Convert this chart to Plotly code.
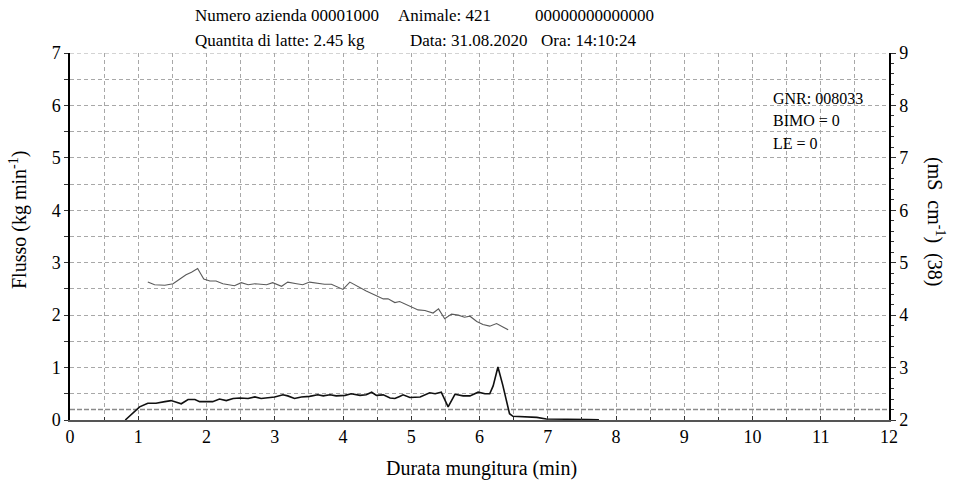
import plotly.graph_objects as go

# Flow curve (kg/min) vs time (min)
flow_t = [0.81, 0.92, 1.02, 1.14, 1.26, 1.39, 1.48, 1.56, 1.63, 1.73, 1.83, 1.90, 2.00, 2.09,
          2.19, 2.29, 2.39, 2.49, 2.61, 2.71, 2.80, 2.90, 3.00, 3.12, 3.19, 3.29, 3.39, 3.51,
          3.63, 3.71, 3.81, 3.90, 4.03, 4.12, 4.25, 4.34, 4.42, 4.49, 4.59, 4.69, 4.76, 4.83,
          4.88, 4.98, 5.13, 5.27, 5.35, 5.44, 5.54, 5.64, 5.76, 5.86, 5.98, 6.08, 6.15, 6.20,
          6.27, 6.34, 6.40, 6.44, 6.49, 6.64, 6.84, 6.98, 7.18, 7.37, 7.59, 7.75]
flow_v = [0.00, 0.13, 0.25, 0.32, 0.32, 0.35, 0.37, 0.34, 0.31, 0.39, 0.39, 0.35, 0.35, 0.35,
          0.40, 0.37, 0.41, 0.42, 0.41, 0.44, 0.41, 0.42, 0.44, 0.48, 0.46, 0.41, 0.44, 0.45,
          0.48, 0.46, 0.48, 0.46, 0.47, 0.50, 0.47, 0.48, 0.53, 0.47, 0.48, 0.42, 0.41, 0.45,
          0.48, 0.43, 0.44, 0.52, 0.50, 0.53, 0.25, 0.49, 0.46, 0.46, 0.53, 0.50, 0.50, 0.65,
          1.01, 0.67, 0.32, 0.12, 0.07, 0.06, 0.05, 0.02, 0.02, 0.02, 0.01, 0.005]

# Conductivity curve (mS/cm) vs time (min)
cond_t = [1.14, 1.24, 1.39, 1.51, 1.61, 1.70, 1.78, 1.87, 1.96, 2.05, 2.14, 2.24, 2.41, 2.51,
          2.61, 2.71, 2.88, 2.97, 3.10, 3.19, 3.32, 3.41, 3.51, 3.63, 3.73, 3.83, 4.00, 4.10,
          4.22, 4.34, 4.49, 4.59, 4.66, 4.76, 4.83, 4.98, 5.10, 5.20, 5.32, 5.40, 5.49, 5.59,
          5.69, 5.78, 5.86, 5.96, 6.05, 6.15, 6.25, 6.35, 6.42]
cond_v = [4.63, 4.58, 4.57, 4.60, 4.69, 4.77, 4.82, 4.89, 4.69, 4.65, 4.65, 4.60, 4.56, 4.62,
          4.58, 4.60, 4.58, 4.62, 4.55, 4.63, 4.60, 4.58, 4.63, 4.61, 4.59, 4.59, 4.49, 4.63,
          4.54, 4.46, 4.37, 4.31, 4.31, 4.24, 4.26, 4.17, 4.10, 4.09, 4.04, 4.12, 3.93, 4.02,
          4.00, 3.96, 3.98, 3.88, 3.82, 3.79, 3.84, 3.77, 3.72]

threshold = 0.2
x_ticks = list(range(0, 13))
y_ticks = list(range(0, 8))
y2_ticks = list(range(2, 10))

FONT = "Liberation Serif"
GRID = "#a8a8a8"
DASH = "4px,3px"
TICKFONT = dict(family=FONT, size=18, color="black")

# plot area in pixels (for placing text)
L, R, T, B = 70, 889, 53, 420
PW, PH = R - L, B - T


def px(xp):
    return (xp - L) / PW


def py(yp):
    return (B - yp) / PH


fig = go.Figure()
fig.add_trace(go.Scatter(x=cond_t, y=cond_v, yaxis="y2", mode="lines",
                         line=dict(color="#5a5a5a", width=1.1), showlegend=False))
fig.add_trace(go.Scatter(x=flow_t, y=flow_v, mode="lines",
                         line=dict(color="#111111", width=1.6), showlegend=False))

fig.add_hline(y=threshold, line=dict(color="#8a8a8a", width=1.5, dash="5px,2px"), layer="below")
fig.add_hline(y=7, line=dict(color=GRID, width=1, dash=DASH), layer="below")

fig.update_layout(
    width=957, height=487,
    margin=dict(l=L, r=957 - R, t=T, b=487 - B),
    paper_bgcolor="white", plot_bgcolor="white",
    font=dict(family=FONT, color="black", size=15),
    xaxis=dict(range=[0, 12], tickvals=x_ticks, ticktext=[str(v) for v in x_ticks],
               showline=True, linecolor="#555555", linewidth=1.5,
               ticks="inside", ticklen=4, tickcolor="#333", tickfont=TICKFONT,
               showgrid=True, gridcolor=GRID, griddash=DASH, gridwidth=1,
               minor=dict(dtick=0.5, showgrid=True, gridcolor=GRID, griddash=DASH,
                          ticks="inside", ticklen=3, tickcolor="#333"),
               zeroline=False, title=None),
    yaxis=dict(range=[0, 7], tickvals=y_ticks, ticktext=[str(v) for v in y_ticks],
               showline=True, linecolor="black", linewidth=1.5,
               ticks="outside", ticklen=4, tickcolor="#333", tickfont=TICKFONT,
               showgrid=True, gridcolor=GRID, griddash=DASH, gridwidth=1,
               minor=dict(dtick=0.5, showgrid=True, gridcolor=GRID, griddash=DASH,
                          ticks="outside", ticklen=4, tickcolor="#333"),
               zeroline=False, title=None),
    yaxis2=dict(range=[2, 9], overlaying="y", side="right",
                tickvals=y2_ticks, ticktext=[str(v) for v in y2_ticks],
                showline=True, linecolor="black", linewidth=1.5,
                ticks="outside", ticklen=5, tickcolor="#333", tickfont=TICKFONT,
                minor=dict(dtick=0.2, ticks="outside", ticklen=3, tickcolor="#333"),
                showgrid=False, zeroline=False, title=None),
)

header = [
    ("Numero azienda 00001000", 193, 16),
    ("Animale: 421", 396, 16),
    ("00000000000000", 533, 16),
    ("Quantita di latte: 2.45 kg", 193, 40),
    ("Data: 31.08.2020", 408, 40),
    ("Ora: 14:10:24", 539, 40),
]
for text, xp, yp in header:
    fig.add_annotation(text=text, x=px(xp), y=py(yp), xref="paper", yref="paper",
                       xanchor="left", yanchor="middle", showarrow=False,
                       font=dict(family=FONT, size=17, color="black"))

info = [("GNR: 008033", 98), ("BIMO = 0", 121), ("LE = 0", 143)]
for text, yp in info:
    fig.add_annotation(text=text, x=px(771), y=py(yp), xref="paper", yref="paper",
                       xanchor="left", yanchor="middle", showarrow=False,
                       font=dict(family=FONT, size=16, color="black"))

fig.add_annotation(text="Durata mungitura (min)", x=px(481), y=py(468),
                   xref="paper", yref="paper", xanchor="center", yanchor="middle",
                   showarrow=False, font=dict(family=FONT, size=20, color="black"))
fig.add_annotation(text="Flusso (kg min<sup>-1</sup>)", x=px(19), y=py(220),
                   xref="paper", yref="paper", xanchor="center", yanchor="middle",
                   textangle=-90, showarrow=False, font=dict(family=FONT, size=20, color="black"))
fig.add_annotation(text="(mS  cm<sup>-1</sup>)  (38)", x=px(936), y=py(221),
                   xref="paper", yref="paper", xanchor="center", yanchor="middle",
                   textangle=90, showarrow=False, font=dict(family=FONT, size=20, color="black"))

fig.write_html("out.html")
